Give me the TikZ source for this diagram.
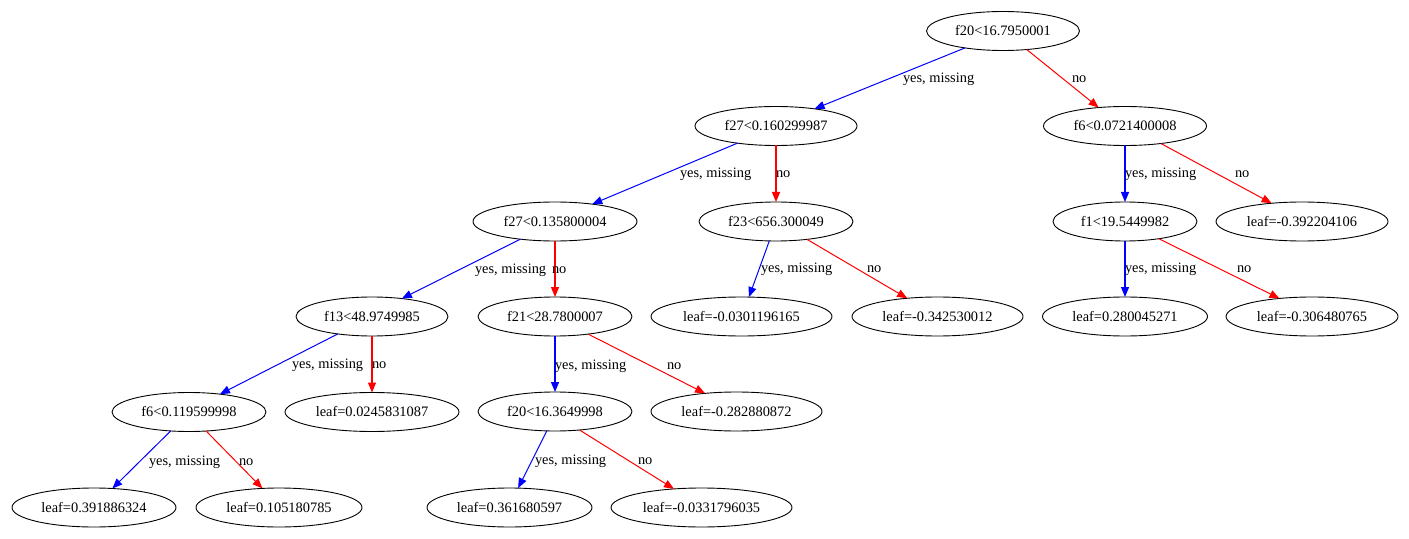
\documentclass[tikz,border=0pt]{standalone}
\usepackage{fontspec}
\setmainfont{Liberation Serif}
\usetikzlibrary{shapes.geometric,arrows.meta}
\definecolor{gvblue}{RGB}{0,0,255}
\definecolor{gvred}{RGB}{255,0,0}
\begin{document}
\begin{tikzpicture}[x=1bp,y=-1bp,
  nd/.style={ellipse, draw=black, line width=0.9bp, inner sep=0pt, outer sep=0pt,
             minimum height=39bp, font=\fontsize{14.45}{17}\selectfont},
  yesedge/.style={draw=gvblue, line width=1bp,
             -{Triangle[length=10bp,width=8bp,fill=gvblue]}},
  noedge/.style={draw=gvred, line width=1bp,
             -{Triangle[length=10bp,width=8bp,fill=gvred]}},
  vert/.style={line width=1.2bp},
  lbl/.style={anchor=base west, inner sep=0pt, outer sep=0pt, font=\fontsize{14.45}{17}\selectfont}]
\useasboundingbox (0,0) rectangle (1409,539);
\fill[white] (0,0) rectangle (1409,539);
% nodes
\node[nd, minimum width=153bp] (root) at (1003,31) {f20<16.7950001};
\node[nd, minimum width=162bp] (f27a) at (776,126) {f27<0.160299987};
\node[nd, minimum width=163bp] (f6a) at (1125,126) {f6<0.0721400008};
\node[nd, minimum width=164bp] (f27b) at (555,221.5) {f27<0.135800004};
\node[nd, minimum width=154bp] (f23) at (776,221.5) {f23<656.300049};
\node[nd, minimum width=144bp] (f1) at (1125,221.5) {f1<19.5449982};
\node[nd, minimum width=172bp] (l392) at (1302,221.5) {leaf=-0.392204106};
\node[nd, minimum width=152bp] (f13) at (372,316.5) {f13<48.9749985};
\node[nd, minimum width=154bp] (f21) at (555,316.5) {f21<28.7800007};
\node[nd, minimum width=181bp] (l030) at (741.5,316.5) {leaf=-0.0301196165};
\node[nd, minimum width=171bp] (l342) at (937.5,316.5) {leaf=-0.342530012};
\node[nd, minimum width=165bp] (l280) at (1125,316.5) {leaf=0.280045271};
\node[nd, minimum width=172bp] (l306) at (1312,316.5) {leaf=-0.306480765};
\node[nd, minimum width=154bp] (f6b) at (189,412) {f6<0.119599998};
\node[nd, minimum width=174bp] (l0245) at (372,412) {leaf=0.0245831087};
\node[nd, minimum width=154bp] (f20b) at (555,411.5) {f20<16.3649998};
\node[nd, minimum width=171bp] (l282) at (736.5,411.5) {leaf=-0.282880872};
\node[nd, minimum width=164bp] (l391) at (94,507.5) {leaf=0.391886324};
\node[nd, minimum width=166bp] (l105) at (279,507.5) {leaf=0.105180785};
\node[nd, minimum width=165bp] (l361) at (509.5,507.5) {leaf=0.361680597};
\node[nd, minimum width=181bp] (l033) at (701.5,507.5) {leaf=-0.0331796035};
% edges
\draw[yesedge] (root.204) -- (f27a.24);
\draw[noedge] (root.322) -- (f6a.145);
\draw[yesedge] (f27a.204) -- (f27b.25);
\draw[noedge, vert] (f27a.south) -- (f23.north);
\draw[yesedge, vert] (f6a.south) -- (f1.north);
\draw[noedge] (f6a.334) -- (l392.149);
\draw[yesedge] (f27b.207) -- (f13.31);
\draw[noedge, vert] (f27b.south) -- (f21.north);
\draw[yesedge] (f23.251) -- (l030.69);
\draw[noedge] (f23.330) -- (l342.149);
\draw[yesedge, vert] (f1.south) -- (l280.north);
\draw[noedge] (f1.333) -- (l306.151);
\draw[yesedge] (f13.207) -- (f6b.30);
\draw[noedge, vert] (f13.south) -- (l0245.north);
\draw[yesedge, vert] (f21.south) -- (f20b.north);
\draw[noedge] (f21.332) -- (l282.150);
\draw[yesedge] (f6b.226) -- (l391.46);
\draw[noedge] (f6b.312) -- (l105.131);
\draw[yesedge] (f20b.247) -- (l361.66);
\draw[noedge] (f20b.323) -- (l033.146);
% labels
\node[lbl] (t1y) at (903,83) {yes, missing};
\node[lbl] (t1n) at (1072,83) {no};
\node[lbl] (t2y) at (680,178) {yes, missing};
\node[lbl] (t2n) at (776,178) {no};
\node[lbl] (t3y) at (1125,178) {yes, missing};
\node[lbl] (t3n) at (1235,178) {no};
\node[lbl] (t4y) at (475,274) {yes, missing};
\node[lbl] (t4n) at (552,274) {no};
\node[lbl] (t5y) at (761,273) {yes, missing};
\node[lbl] (t5n) at (867,273) {no};
\node[lbl] (t6y) at (1125,273) {yes, missing};
\node[lbl] (t6n) at (1237,273) {no};
\node[lbl] (t7y) at (292,368) {yes, missing};
\node[lbl] (t7n) at (372,368) {no};
\node[lbl] (t8y) at (555,369) {yes, missing};
\node[lbl] (t8n) at (667,369) {no};
\node[lbl] (t9y) at (149,465) {yes, missing};
\node[lbl] (t9n) at (239,465) {no};
\node[lbl] (t10y) at (535,464) {yes, missing};
\node[lbl] (t10n) at (638,464) {no};
\end{tikzpicture}
\end{document}
